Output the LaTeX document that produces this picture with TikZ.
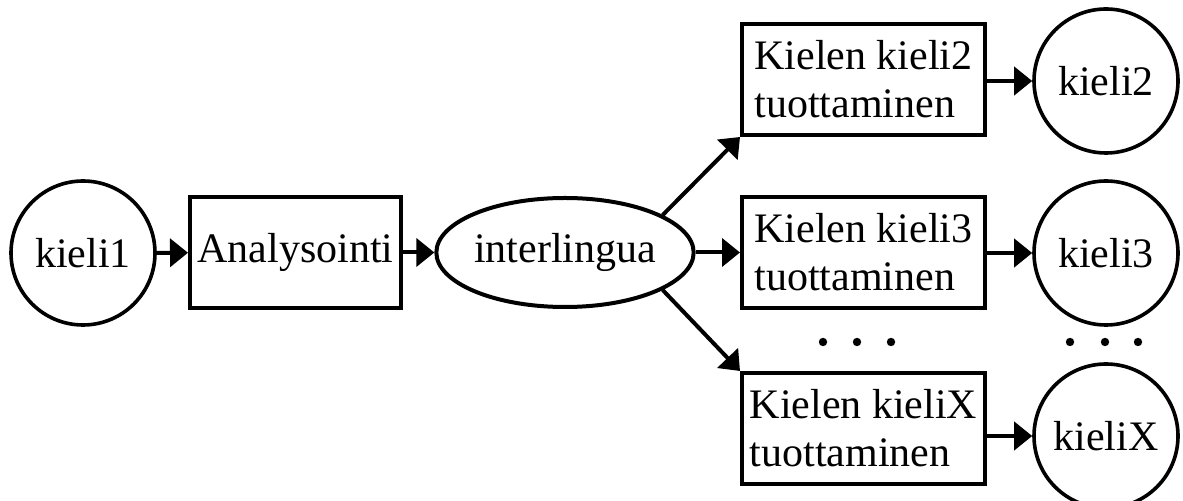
\documentclass[tikz,border=0pt]{standalone}
\usepackage{fontspec}
\setmainfont{Liberation Serif}
\usetikzlibrary{arrows.meta,shapes.geometric}
\begin{document}
\begin{tikzpicture}[x=0.5pt,y=-0.5pt,
  txt/.style={font=\fontsize{21}{24}\selectfont},
  lang/.style={circle,draw,line width=1.8pt,minimum size=72pt,inner sep=0pt,txt},
  proc/.style={rectangle,draw,line width=2pt,minimum width=121.5pt,minimum height=55.5pt,inner sep=0pt,align=left,txt},
  inter/.style={ellipse,draw,line width=2pt,minimum width=128pt,minimum height=54.5pt,inner sep=0pt,txt},
  arr/.style={-{Triangle[length=9pt,width=14pt]},line width=2pt},
  dot/.style={fill=black}]
\useasboundingbox (0,0) rectangle (1183,501);
\node[lang] (k1) at (83,253) {kieli1};
\node[proc,minimum width=105.5pt] (an) at (295.5,252.5) {Analysointi};
\node[inter] (il) at (565,252.5) {interlingua};
\node[proc] (b2) at (863.5,79.5) {Kielen kieli2\\tuottaminen};
\node[proc] (b3) at (863.5,252.5) {Kielen kieli3\\tuottaminen};
\node[proc] (bx) at (863.5,428.5) {Kielen kieliX\\tuottaminen};
\node[lang] (c2) at (1106,81) {kieli2};
\node[lang] (c3) at (1106,253) {kieli3};
\node[lang] (cx) at (1106,436) {kieliX};
\draw[arr] (k1) -- (an);
\draw[arr] (an) -- (il);
\draw[arr] (il) -- (b3);
\draw[arr] (il.21) -- (b2.south west);
\draw[arr] (il.-21) -- (bx.north west);
\draw[arr] (c2.west -| b2.east) -- (c2.west);
\draw[arr] (c3.west -| b3.east) -- (c3.west);
\draw[arr] (cx.west -| bx.east) -- (cx.west);
\foreach \x in {823,857,891,1070,1105,1138}
  \fill[dot] (\x,342) circle[radius=2.1pt];
\end{tikzpicture}
\end{document}
